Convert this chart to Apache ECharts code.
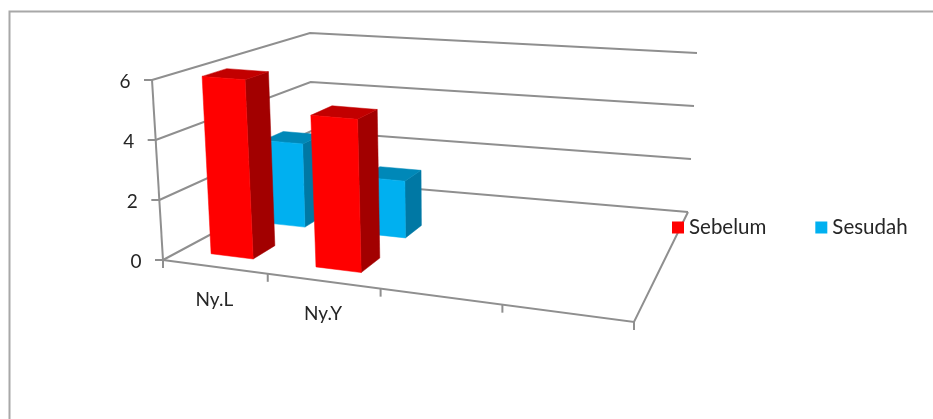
<!DOCTYPE html>
<html><head><meta charset="utf-8">
<style>html,body{margin:0;padding:0;background:#fff}#c{width:933px;height:419px}</style>
<script src="https://cdn.jsdelivr.net/npm/echarts@6/dist/echarts.min.js"></script>
</head><body><div id="c"></div>
<script>
const categories = ['Ny.L', 'Ny.Y', '', ''];
const sebelum = [6, 5];
const sesudah = [3, 2];
const yTicks = [0, 2, 4, 6];
const seriesNames = ['Sebelum', 'Sesudah'];

// Perspective box: [front-left, front-right, back-right, back-left] for the floor and the top plane
const floor = [[163,260],[634,322],[688,212],[312,180]];
const ceil  = [[152,80],[651,122],[697,53],[310,33]];
function homography(q){
  const [[x0,y0],[x1,y1],[x2,y2],[x3,y3]] = q;
  const dx1=x1-x2,dx2=x3-x2,sx=x0-x1+x2-x3,dy1=y1-y2,dy2=y3-y2,sy=y0-y1+y2-y3;
  const den=dx1*dy2-dx2*dy1, g=(sx*dy2-dx2*sy)/den, h=(dx1*sy-sx*dy1)/den;
  return [x1-x0+g*x1,x3-x0+h*x3,x0,y1-y0+g*y1,y3-y0+h*y3,y0,g,h];
}
const H0=homography(floor), H1=homography(ceil);
function ap(H,u,d){const w=H[6]*u+H[7]*d+1;return [(H[0]*u+H[1]*d+H[2])/w,(H[3]*u+H[4]*d+H[5])/w];}
function project(u0,d,v){const u=u0+0.06*u0*(1-u0),a=ap(H0,u,d),b=ap(H1,u,d);return [a[0]+(b[0]-a[0])*v,a[1]+(b[1]-a[1])*v];}
function norm(params,api,x,y){const p=api.coord([x,y]),c=params.coordSys;return [(p[0]-c.x)/c.width,(c.y+c.height-p[1])/c.height];}

const BAR=0.41, GREY='#8f8f8f', TXT='#262626', FONT='19px Lato, Carlito, sans-serif';
function poly(points,fill){return {type:'polygon',shape:{points},style:{fill,stroke:fill,lineWidth:0.5},silent:true};}
function line(points,w){return {type:'polyline',shape:{points},style:{fill:'none',stroke:GREY,lineWidth:w||2},silent:true};}
function label(text,p,align){return {type:'text',style:{text,x:p[0],y:p[1],fill:TXT,font:FONT,align:align||'center',verticalAlign:'middle'},silent:true};}

function barRender(d0,d1,front,top,side){
  return function(params,api){
    const c=params.coordSys;
    const [u,v]=norm(params,api,api.value(0),api.value(1));
    const hw=api.size([1,0])[0]/c.width*BAR/2, u0=u-hw,u1=u+hw;
    const P=project;
    return {type:'group',children:[
      poly([P(u1,d0,0),P(u1,d1,0),P(u1,d1,v),P(u1,d0,v)],side),
      poly([P(u0,d0,v),P(u1,d0,v),P(u1,d1,v),P(u0,d1,v)],top),
      poly([P(u0,d0,0),P(u1,d0,0),P(u1,d0,v),P(u0,d0,v)],front)
    ]};
  };
}
function frameRender(params,api){
  const tick=api.value(1), v=norm(params,api,0,tick)[1], ch=[];
  const fl=project(0,0,v), bl=project(0,1,v), br=project(1,1,v);
  ch.push(line([fl,bl,br]));
  ch.push(line([fl,[fl[0]-8,fl[1]]]));
  ch.push(label(String(tick),[fl[0]-27,fl[1]+2]));
  if(params.dataIndex===0){
    ch.push(line([project(0,0,0),project(1,0,0),project(1,1,0)]));
    ch.push(line([project(0,0,0),project(0,0,1)]));
    categories.forEach((name,i)=>{
      const a=norm(params,api,i,0)[0], hw=api.size([1,0])[0]/params.coordSys.width/2;
      const e=project(a-hw,0,0);
      ch.push(line([e,[e[0],e[1]+8]]));
      if(name){const m=project(a,0,0);ch.push(label(name,[m[0],m[1]+33]));}
    });
    const e=project(1,0,0);
    ch.push(line([e,[e[0],e[1]+8]]));
  }
  return {type:'group',children:ch};
}

const chart=echarts.init(document.getElementById('c'),null,{renderer:'canvas'});
chart.setOption({
  animation:false,
  backgroundColor:'#fff',
  grid:{left:100,top:50,width:500,height:300},
  xAxis:{type:'category',data:categories,show:false},
  yAxis:{type:'value',min:0,max:6,interval:2,show:false},
  legend:{data:seriesNames,left:667,top:212,icon:'rect',itemWidth:12,itemHeight:12,itemGap:49,
    textStyle:{fontFamily:'Lato',fontSize:20.5,color:TXT}},
  graphic:[{type:'polyline',shape:{points:[[9.5,419],[9.5,11.5],[933,11.5]]},style:{fill:'none',stroke:'#a8a8a8',lineWidth:2},silent:true}],
  series:[
    {type:'custom',name:'frame',z:1,data:yTicks.map(t=>[0,t]),encode:{x:0,y:1},renderItem:frameRender,clip:false,silent:true},
    {type:'custom',name:'Sesudah',z:2,itemStyle:{color:'#00b0f0'},data:sesudah.map((v,i)=>[i,v]),encode:{x:0,y:1},
      renderItem:barRender(0.44,0.58,'#00b0f0','#0088b8','#0078a4'),clip:false,silent:true},
    {type:'custom',name:'Sebelum',z:3,itemStyle:{color:'#ff0000'},data:sebelum.map((v,i)=>[i,v]),encode:{x:0,y:1},
      renderItem:barRender(0.10,0.235,'#ff0000','#c20000','#a20000'),clip:false,silent:true}
  ]
});
</script></body></html>
